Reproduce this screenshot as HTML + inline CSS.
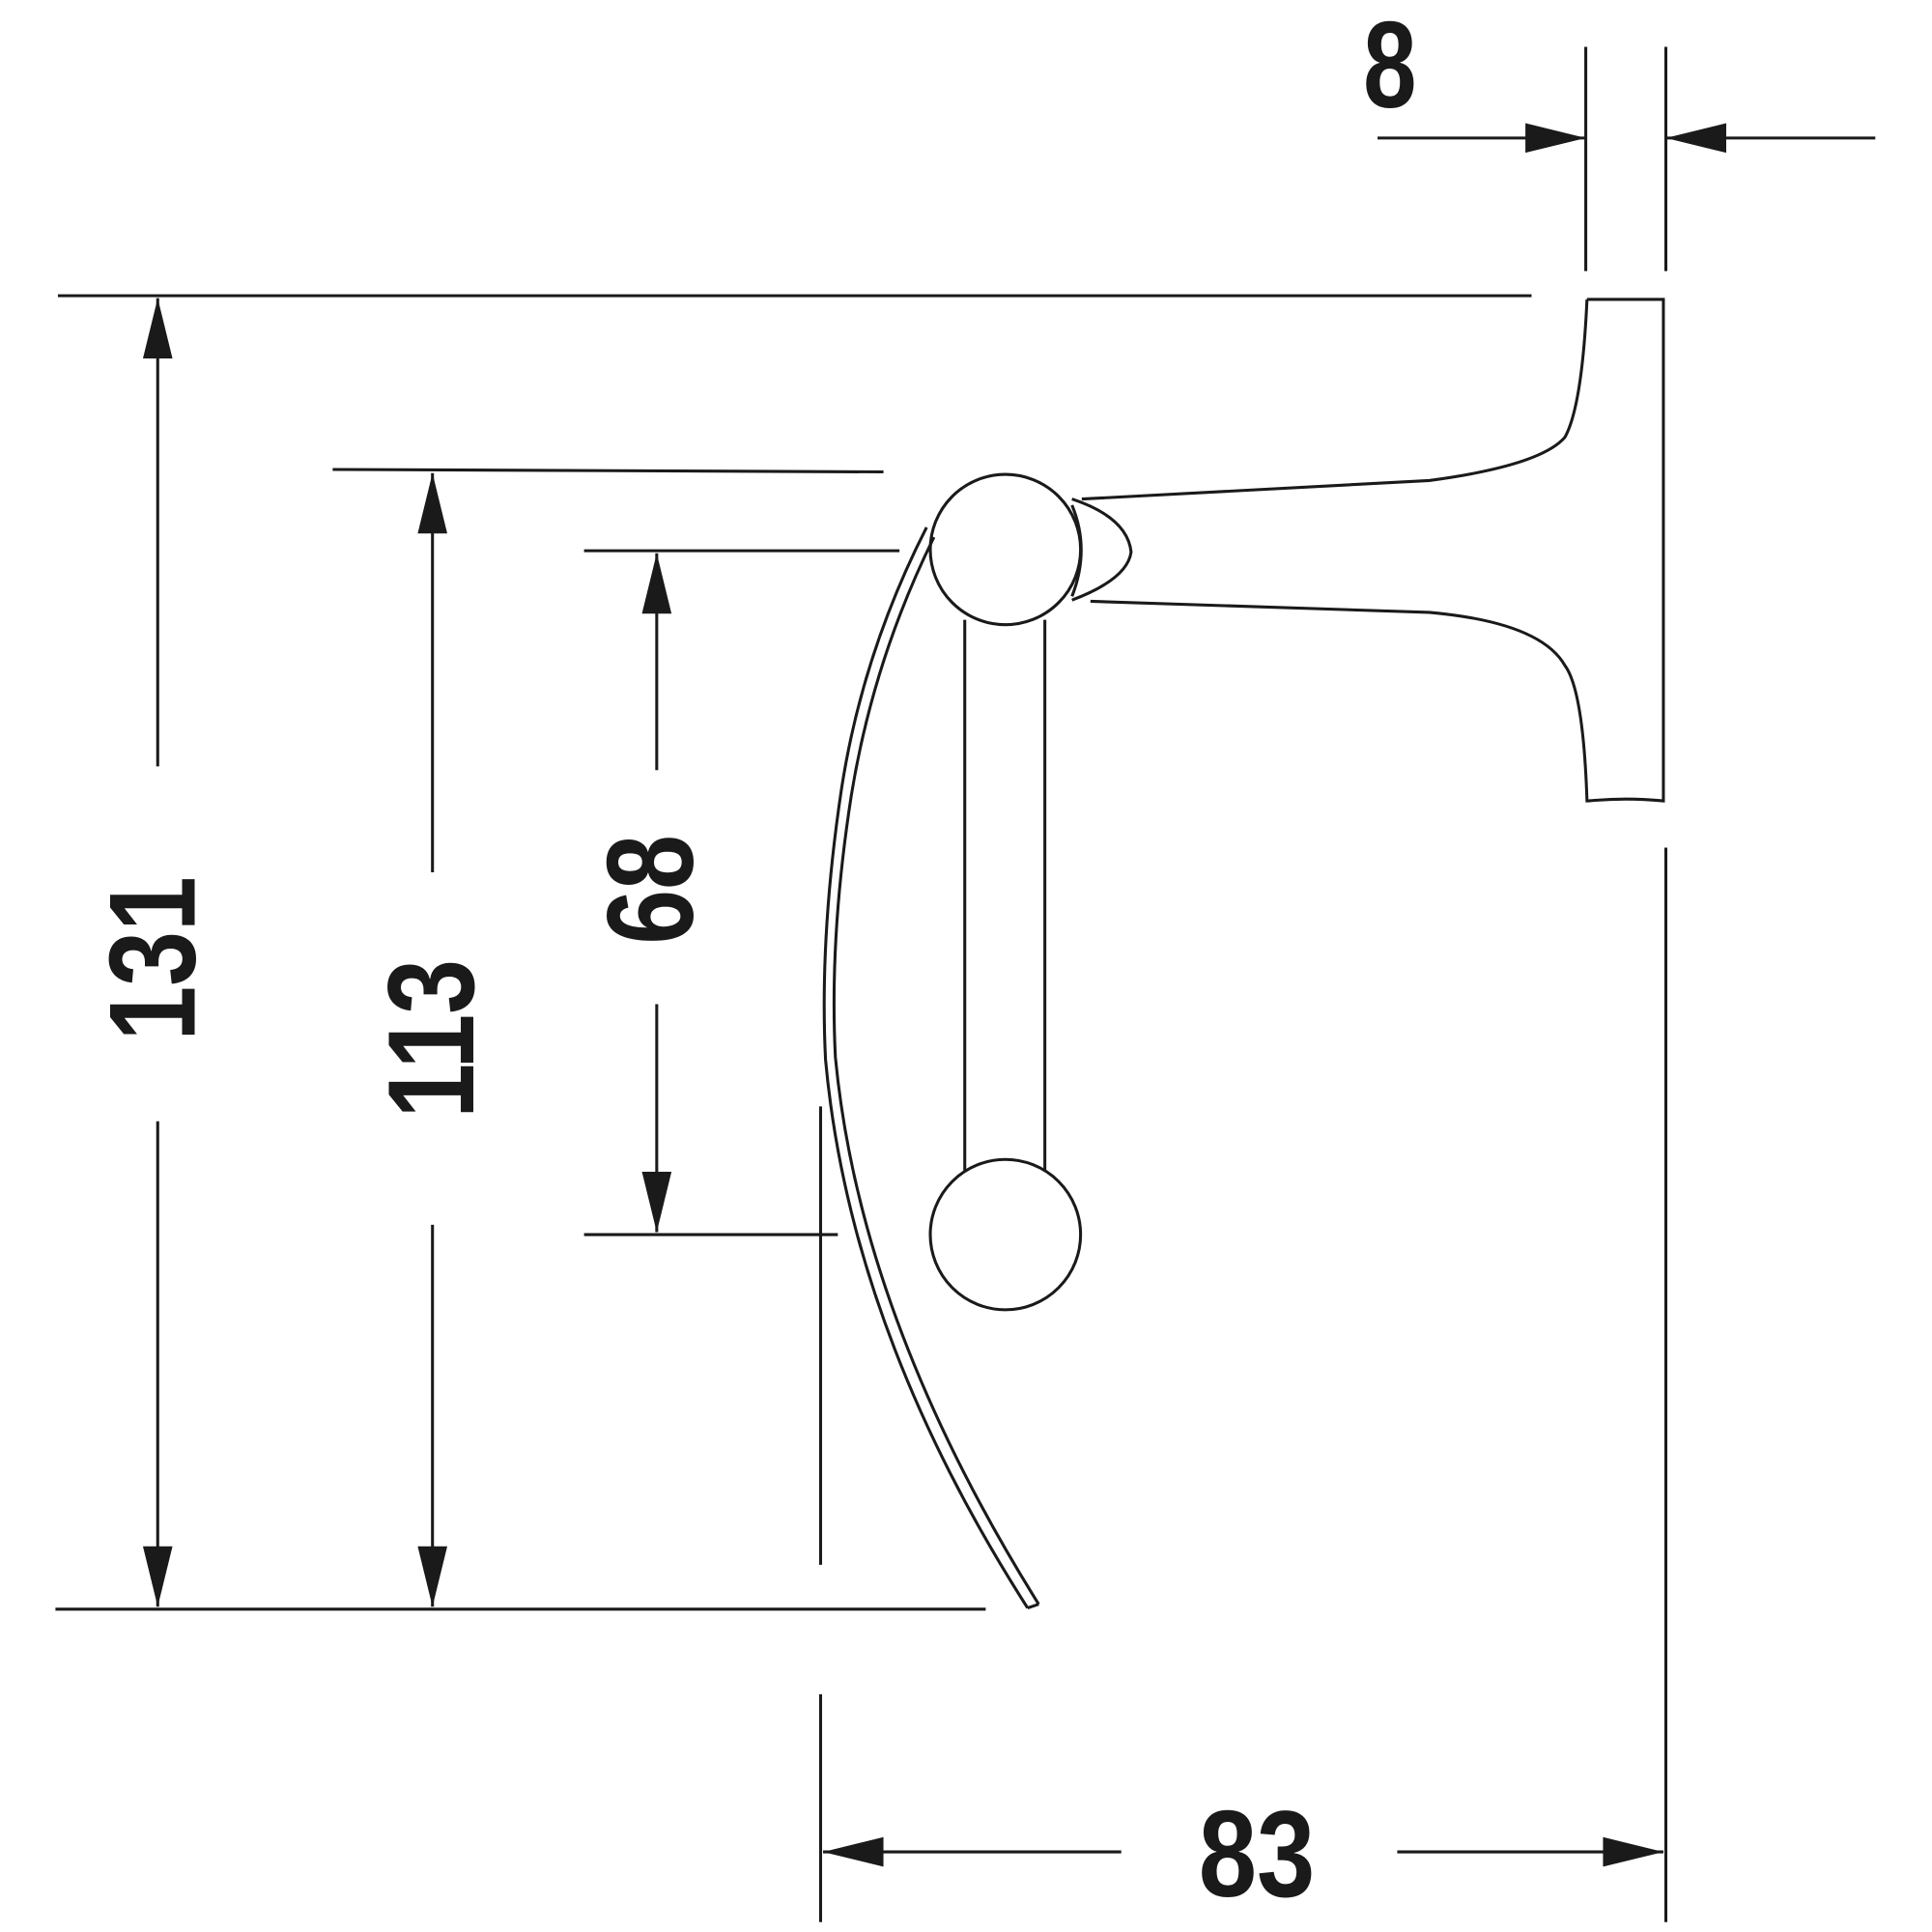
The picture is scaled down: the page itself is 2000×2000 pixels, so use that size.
<!DOCTYPE html>
<html><head><meta charset="utf-8"><style>html,body{margin:0;padding:0;background:#fff}svg{display:block}</style></head>
<body>
<svg width="2000" height="2000" viewBox="0 0 1568 1568" xmlns="http://www.w3.org/2000/svg">
<g fill="none" stroke="#1a1a1a" stroke-width="2.4">
<line x1="47" y1="240" x2="1243" y2="240"/>
<line x1="270" y1="381" x2="717" y2="383"/>
<line x1="474" y1="447" x2="730" y2="447"/>
<line x1="474" y1="1002" x2="680" y2="1002"/>
<line x1="45" y1="1306" x2="800" y2="1306"/>
<line x1="1287" y1="38" x2="1287" y2="220"/>
<line x1="1352" y1="38" x2="1352" y2="220"/>
<line x1="1352" y1="688" x2="1352" y2="1560"/>
<line x1="666" y1="898" x2="666" y2="1270"/>
<line x1="666" y1="1375" x2="666" y2="1560"/>
<line x1="1118" y1="112" x2="1287" y2="112"/>
<line x1="1352" y1="112" x2="1522" y2="112"/>
<line x1="128" y1="242" x2="128" y2="622"/>
<line x1="128" y1="910" x2="128" y2="1304"/>
<line x1="351" y1="384" x2="351" y2="708"/>
<line x1="351" y1="994" x2="351" y2="1304"/>
<line x1="533" y1="449" x2="533" y2="625"/>
<line x1="533" y1="815" x2="533" y2="1000"/>
<line x1="668" y1="1503" x2="910" y2="1503"/>
<line x1="1134" y1="1503" x2="1350" y2="1503"/>
<path d="M1288,243 L1350,243 L1350,650 Q1320,647 1289,650 L1288,650 Q1285,560 1270,540 Q1250,505 1160,497 L885,488"/>
<path d="M1288,243 Q1284,330 1270,355 Q1250,378 1160,390 L878,405"/>
<path d="M870,405 Q915,420 918,448 Q915,470 870,487"/>
<circle cx="816" cy="446" r="61"/>
<path d="M870,410 Q885,446 870,484"/>
<line x1="783" y1="503" x2="783" y2="950"/>
<line x1="848" y1="503" x2="848" y2="950"/>
<circle cx="816" cy="1002" r="61"/>
<path d="M752,428 Q700,530 683,640 Q665,760 670,860 Q690,1080 834,1305"/>
<path d="M758,436 Q709,535 691,645 Q673,760 678,858 Q698,1070 843,1302"/>
<line x1="834" y1="1305" x2="843" y2="1302"/>
</g>
<g fill="#1a1a1a">
<polygon points="1287,112 1238,100 1238,124"/>
<polygon points="1352,112 1401,100 1401,124"/>
<polygon points="128,242 116,291 140,291"/>
<polygon points="128,1304 116,1255 140,1255"/>
<polygon points="351,384 339,433 363,433"/>
<polygon points="351,1304 339,1255 363,1255"/>
<polygon points="533,449 521,498 545,498"/>
<polygon points="533,1000 521,951 545,951"/>
<polygon points="668,1503 717,1491 717,1515"/>
<polygon points="1350,1503 1301,1491 1301,1515"/>
</g>
<g font-family="Liberation Sans, sans-serif" font-weight="bold" fill="#1a1a1a" font-size="100" text-anchor="middle">
<text transform="translate(1128,87) scale(0.78,1)">8</text>
<text transform="translate(1020,1539) scale(0.85,1)">83</text>
<text transform="translate(158,778) rotate(-90) scale(0.8,1)">131</text>
<text transform="translate(384,843) rotate(-90) scale(0.8,1)">113</text>
<text transform="translate(562,722) rotate(-90) scale(0.8,1)">68</text>
</g>
</svg>
</body></html>
